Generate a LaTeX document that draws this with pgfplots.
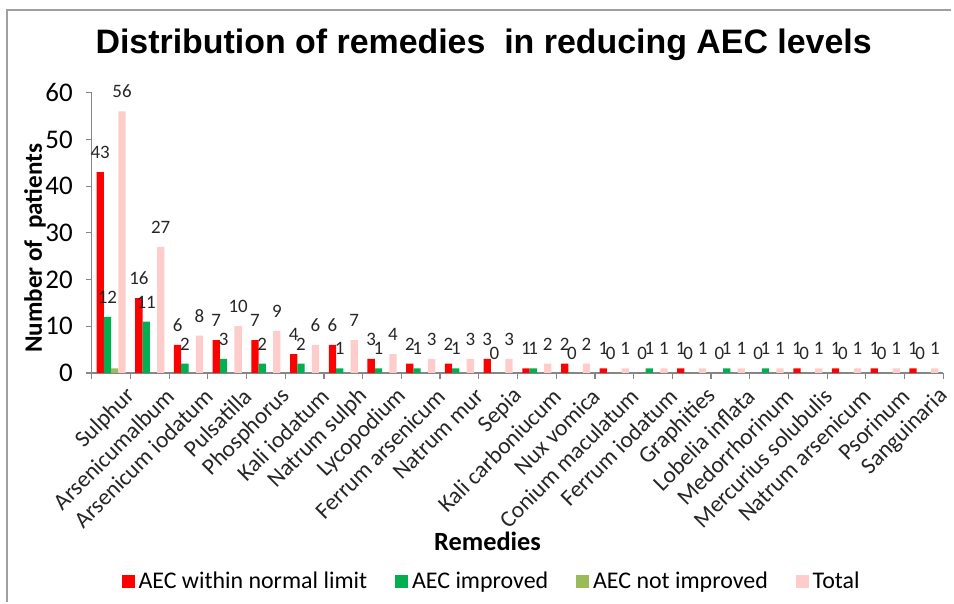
\documentclass[border=0pt]{standalone}
\usepackage{pgfplots}
\pgfplotsset{compat=1.18}
\usepackage{fontspec}
\setmainfont{Carlito}
\newfontfamily\titlefont{Liberation Sans}
\definecolor{cRed}{RGB}{255,0,0}
\definecolor{cGreen}{RGB}{0,176,80}
\definecolor{cOlive}{RGB}{155,187,89}
\definecolor{cPink}{RGB}{255,204,204}
\definecolor{cAxis}{RGB}{134,134,134}
\definecolor{cFrame}{RGB}{160,160,160}
\begin{document}
\begin{tikzpicture}
\begin{axis}[
  scale only axis, width=427pt, height=140.5pt,
  at={(0,0)}, anchor=south west,
  ybar=0pt, bar width=0.188,
  xmin=-0.5, xmax=21.5, ymin=0, ymax=60,
  ytick={0,10,...,60},
  xtick={0,...,21},
  xticklabels={Sulphur,Arsenicumalbum,Arsenicum iodatum,Pulsatilla,Phosphorus,Kali iodatum,Natrum sulph,Lycopodium,Ferrum arsenicum,Natrum mur,Sepia,Kali carboniucum,Nux vomica,Conium maculatum,Ferrum iodatum,Graphities,Lobelia inflata,Medorrhorinum,Mercurius solubulis,Natrum arsenicum,Psorinum,Sanguinaria},
  minor xtick={-0.5,0.5,...,21.5},
  axis x line*=bottom, axis y line*=left,
  axis line style={draw=cAxis, line width=0.6pt},
  tick style={draw=cAxis, line width=0.6pt},
  major x tick style={draw=none},
  tick align=outside, major tick length=3pt, minor tick length=3pt,
  /pgf/number format/assume math mode=true,
  yticklabel style={font=\fontsize{13.5}{15}\selectfont, text=black, xshift=-3pt},
  xticklabel style={font=\fontsize{11.7}{13}\selectfont, rotate=45, anchor=east, inner sep=1pt, text=black!85, xshift=3.5pt, yshift=-12pt},
  every node near coord/.append style={font=\fontsize{9.5}{11}\selectfont, text=black!85, inner sep=0pt, anchor=south, yshift=6.5pt},
  legend columns=4,
  legend style={at={(0.4707,-0.744)}, anchor=center, draw=none, fill=none,
    font=\fontsize{12}{14}\selectfont,
    /tikz/every even column/.append style={column sep=12pt}},
  legend image code/.code={\fill[#1] (0pt,-3.25pt) rectangle (6.5pt,3.25pt);},
  clip=false,
]
\addplot[fill=cRed, draw=none, nodes near coords] coordinates {(0,43)(1,16)(2,6)(3,7)(4,7)(5,4)(6,6)(7,3)(8,2)(9,2)(10,3)(11,1)(12,2)(13,1)(14,0)(15,1)(16,0)(17,0)(18,1)(19,1)(20,1)(21,1)};
\addlegendentry{AEC within normal limit}
\addplot[fill=cGreen, draw=none, nodes near coords] coordinates {(0,12)(1,11)(2,2)(3,3)(4,2)(5,2)(6,1)(7,1)(8,1)(9,1)(10,0)(11,1)(12,0)(13,0)(14,1)(15,0)(16,1)(17,1)(18,0)(19,0)(20,0)(21,0)};
\addlegendentry{AEC improved}
\addplot[fill=cOlive, draw=none] coordinates {(0,1)(1,0)(2,0)(3,0)(4,0)(5,0)(6,0)(7,0)(8,0)(9,0)(10,0)(11,0)(12,0)(13,0)(14,0)(15,0)(16,0)(17,0)(18,0)(19,0)(20,0)(21,0)};
\addlegendentry{AEC not improved}
\addplot[fill=cPink, draw=none, nodes near coords] coordinates {(0,56)(1,27)(2,8)(3,10)(4,9)(5,6)(6,7)(7,4)(8,3)(9,3)(10,3)(11,2)(12,2)(13,1)(14,1)(15,1)(16,1)(17,1)(18,1)(19,1)(20,1)(21,1)};
\addlegendentry{Total}
\end{axis}
\node[font=\titlefont\bfseries\fontsize{17}{20}\selectfont, anchor=center] at (196.5pt,164.5pt) {Distribution of remedies\ \ in reducing AEC levels};
\node[font=\bfseries\fontsize{12.6}{14}\selectfont, rotate=90, anchor=center] at (-28.5pt,62.5pt) {Number of\ \ patients};
\node[font=\bfseries\fontsize{13.2}{15}\selectfont, anchor=center] at (198.5pt,-84.5pt) {Remedies};
\draw[cFrame, line width=0.8pt] (431pt,182pt) -- (-42.5pt,182pt) -- (-42.5pt,-115pt);
\useasboundingbox (-46pt,-115pt) rectangle (431pt,187pt);
\end{tikzpicture}
\end{document}
